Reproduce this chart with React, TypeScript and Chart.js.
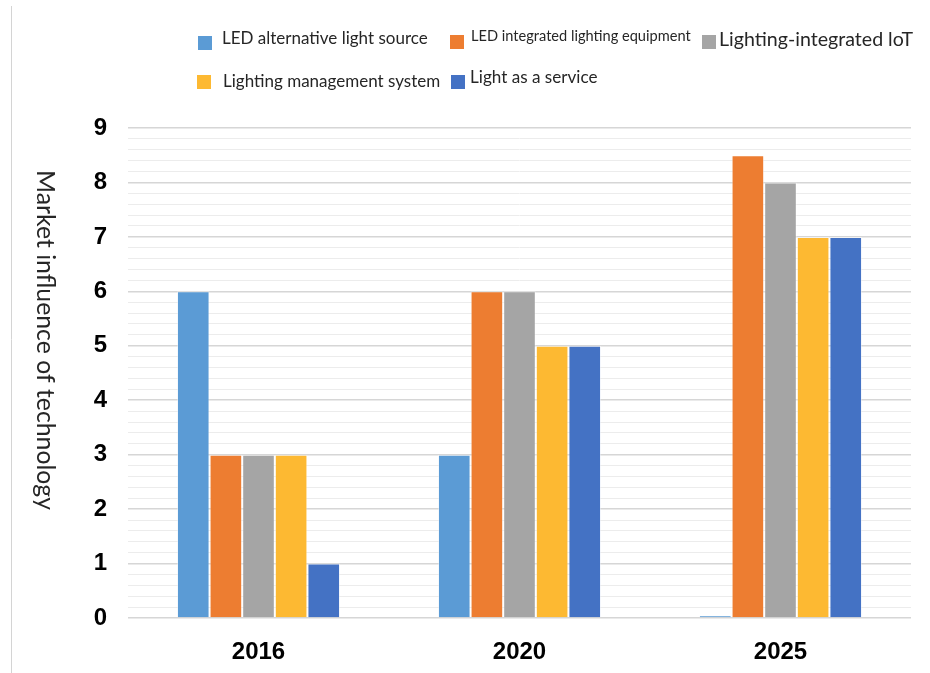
import React, { useEffect, useRef } from "react";
import { Chart, registerables } from "chart.js";

Chart.register(...registerables);

const categories = ["2016", "2020", "2025"];
const seriesNames = [
  "LED alternative light source",
  "LED integrated lighting equipment",
  "Lighting-integrated loT",
  "Lighting management system",
  "Light as a service",
];
const ledAlternative = [6, 3, 0.05];
const ledIntegrated = [3, 6, 8.5];
const lightingIoT = [3, 6, 8];
const lightingMgmt = [3, 5, 7];
const lightAsService = [1, 5, 7];
const seriesColors = ["#5B9BD5", "#ED7D31", "#A5A5A5", "#FDB932", "#4472C4"];
const yTitle = "Market influence of technology";

// legend layout (style only)
const legendLayout = [
  { sx: 198, sy: 36, tx: 222, ty: 39, size: 17 },
  { sx: 450, sy: 35, tx: 471, ty: 36, size: 14.6 },
  { sx: 702, sy: 35, tx: 719, ty: 40, size: 19.6 },
  { sx: 197, sy: 75, tx: 223, ty: 82, size: 17 },
  { sx: 451, sy: 75, tx: 470, ty: 77, size: 17.1 },
];

const decorPlugin = {
  id: "decor",
  afterDraw(chart: any) {
    const ctx = chart.ctx;
    ctx.save();
    // left frame line
    ctx.strokeStyle = "#d4d4d4";
    ctx.lineWidth = 1;
    ctx.beginPath();
    ctx.moveTo(11.5, 6);
    ctx.lineTo(11.5, 673);
    ctx.stroke();
    // y title rotated clockwise
    ctx.save();
    ctx.translate(45, 340);
    ctx.rotate(Math.PI / 2);
    ctx.fillStyle = "#262626";
    ctx.font = "24.8px Lato, 'Open Sans', sans-serif";
    ctx.textAlign = "center";
    ctx.textBaseline = "middle";
    ctx.fillText(yTitle, 0, 0);
    ctx.restore();
    // legend
    seriesNames.forEach((name, i) => {
      const l = legendLayout[i];
      ctx.fillStyle = seriesColors[i];
      ctx.fillRect(l.sx, l.sy, 14, 14);
      ctx.fillStyle = "#262626";
      ctx.font = `${l.size}px Lato, 'Open Sans', sans-serif`;
      ctx.textAlign = "left";
      ctx.textBaseline = "middle";
      ctx.fillText(name, l.tx, l.ty);
    });
    ctx.restore();
  },
};

export default function App() {
  const canvasRef = useRef<HTMLCanvasElement | null>(null);

  useEffect(() => {
    const canvas = canvasRef.current;
    if (!canvas) return;
    const values = [ledAlternative, ledIntegrated, lightingIoT, lightingMgmt, lightAsService];
    const chart = new Chart(canvas, {
      type: "bar",
      data: {
        labels: categories,
        datasets: seriesNames.map((name, i) => ({
          label: name,
          data: values[i],
          backgroundColor: seriesColors[i],
          borderColor: "rgba(255,255,255,0.45)",
          borderWidth: 1,
          barPercentage: 1,
          categoryPercentage: 0.625,
        })),
      },
      options: {
        responsive: false,
        animation: false,
        layout: { padding: { top: 128, right: 19, left: 0, bottom: 0 } },
        plugins: {
          legend: { display: false },
          tooltip: { enabled: false },
          title: { display: false },
        },
        scales: {
          x: {
            grid: { display: false },
            border: { display: false },
            ticks: {
              color: "#000",
              font: { family: "Arial, 'Liberation Sans', sans-serif", size: 24, weight: "bold" },
              padding: 12,
            },
            afterFit: (s: any) => {
              s.height = 55;
            },
          },
          y: {
            min: 0,
            max: 9,
            border: { display: false },
            grid: {
              drawTicks: false,
              color: (c: any) =>
                Math.abs(c.tick.value - Math.round(c.tick.value)) < 1e-6 ? "#d6d6d6" : "#ececec",
              lineWidth: (c: any) =>
                Math.abs(c.tick.value - Math.round(c.tick.value)) < 1e-6 ? 1.5 : 1,
            },
            ticks: {
              stepSize: 0.2,
              autoSkip: false,
              color: "#000",
              padding: 21,
              font: { family: "Arial, 'Liberation Sans', sans-serif", size: 24, weight: "bold" },
              callback: (v: any) => {
                const n = Number(v);
                return Math.abs(n - Math.round(n)) < 1e-6 ? String(Math.round(n)) : "";
              },
            },
            afterFit: (s: any) => {
              s.width = 128;
            },
          },
        },
      },
      plugins: [decorPlugin],
    });
    return () => chart.destroy();
  }, []);

  return (
    <div style={{ position: "fixed", left: 0, top: 0, width: 930, height: 673, background: "#fff" }}>
      <canvas ref={canvasRef} width={930} height={673} />
    </div>
  );
}
